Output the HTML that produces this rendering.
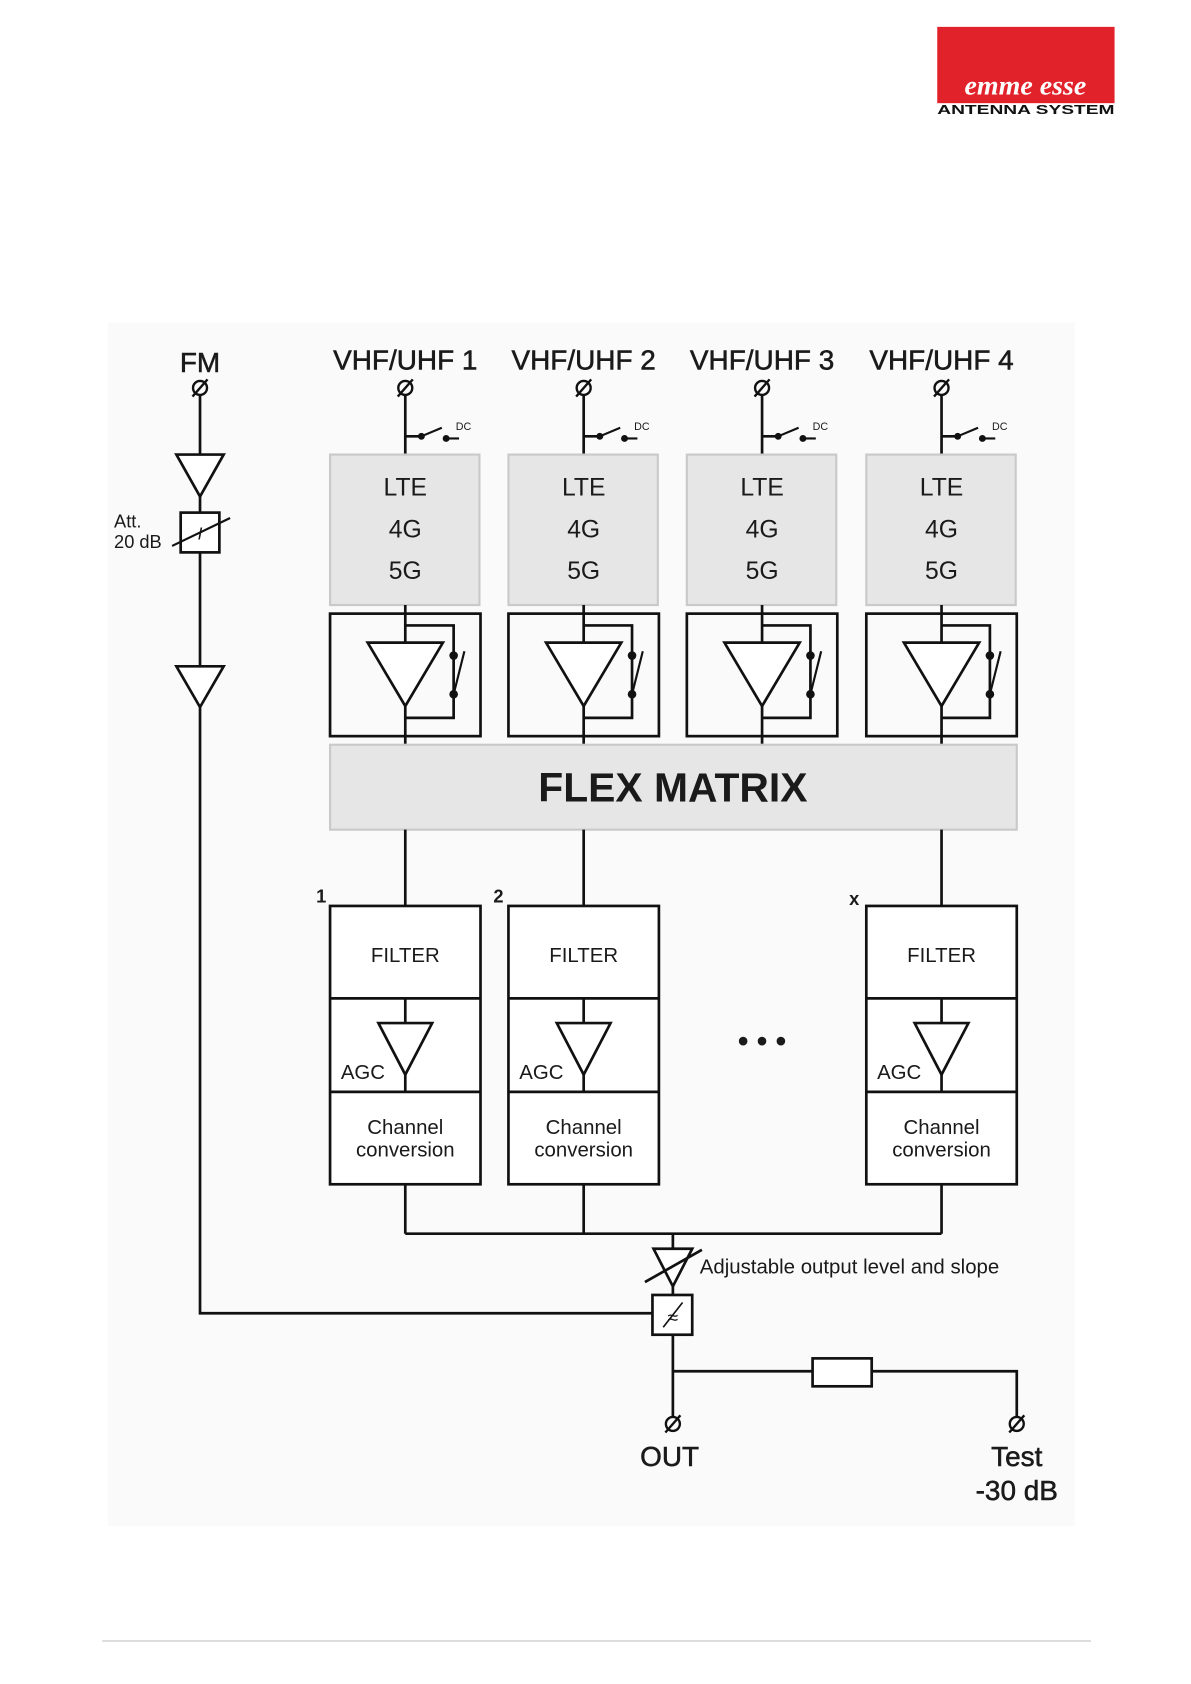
<!DOCTYPE html>
<html><head><meta charset="utf-8"><style>
html,body{margin:0;padding:0;background:#fff}
svg{display:block}
text{font-family:"Liberation Sans",sans-serif;fill:#1a1a1a}
</style></head><body>
<svg width="1191" height="1684" viewBox="0 0 1108 1567" xmlns="http://www.w3.org/2000/svg">
<defs>
<g id="term"><circle cx="0" cy="0" r="6.5" fill="none" stroke="#111" stroke-width="2.2"/><line x1="-7" y1="8" x2="7" y2="-8" stroke="#111" stroke-width="2.2"/></g>
<g id="col">
 <use href="#term" x="0" y="361"/>
 <line x1="0" y1="368" x2="0" y2="423" stroke="#111" stroke-width="2.5"/>
 <line x1="0" y1="406" x2="15" y2="406" stroke="#111" stroke-width="2.5"/>
 <circle cx="15" cy="406" r="3.2" fill="#111"/>
 <line x1="15" y1="406" x2="34" y2="398" stroke="#111" stroke-width="2"/>
 <circle cx="38" cy="408" r="3.2" fill="#111"/>
 <line x1="38" y1="408" x2="50" y2="408" stroke="#111" stroke-width="2"/>
 <text x="47" y="400" font-size="10">DC</text>
 <rect x="-70" y="423" width="139" height="140" fill="#e6e6e6" stroke="#c9c9c9" stroke-width="2"/>
 <text x="0" y="461" font-size="23" text-anchor="middle">LTE</text>
 <text x="0" y="500" font-size="23" text-anchor="middle">4G</text>
 <text x="0" y="539" font-size="23" text-anchor="middle">5G</text>
 <line x1="0" y1="563" x2="0" y2="693" stroke="#111" stroke-width="2.5"/>
 <rect x="-70" y="571" width="140" height="114" fill="none" stroke="#111" stroke-width="2.5"/>
 <polygon points="-35,598 35,598 0,657" fill="#fff" stroke="#111" stroke-width="2.5"/>
 <polyline points="0,582 45,582 45,668 0,668" fill="none" stroke="#111" stroke-width="2.5"/>
 <circle cx="45" cy="610" r="4" fill="#111"/><circle cx="45" cy="646" r="4" fill="#111"/>
 <line x1="45" y1="646" x2="55" y2="606" stroke="#111" stroke-width="2"/>
</g>
<g id="chan">
 <rect x="-70" y="843" width="140" height="259" fill="#fff" stroke="#111" stroke-width="2.5"/>
 <line x1="-70" y1="929" x2="70" y2="929" stroke="#111" stroke-width="2.5"/>
 <line x1="-70" y1="1016" x2="70" y2="1016" stroke="#111" stroke-width="2.5"/>
 <text x="0" y="895" font-size="19" text-anchor="middle">FILTER</text>
 <line x1="0" y1="929" x2="0" y2="952" stroke="#111" stroke-width="2.5"/>
 <polygon points="-25,952 25,952 0,1000" fill="#fff" stroke="#111" stroke-width="2.5"/>
 <line x1="0" y1="1000" x2="0" y2="1016" stroke="#111" stroke-width="2.5"/>
 <text x="-60" y="1004" font-size="19">AGC</text>
 <text x="0" y="1055" font-size="19" text-anchor="middle">Channel</text>
 <text x="0" y="1076" font-size="19" text-anchor="middle">conversion</text>
 <line x1="0" y1="1102" x2="0" y2="1148" stroke="#111" stroke-width="2.5"/>
</g>
</defs>
<rect x="100" y="300" width="900" height="1120" fill="#fafafa"/>
<!-- logo -->
<rect x="872" y="25" width="165" height="71" fill="#e2222a"/>
<text x="954" y="88" font-size="26" font-style="italic" font-weight="bold" text-anchor="middle" style="fill:#fff;font-family:'Liberation Serif',serif">emme esse</text>
<text x="872" y="106" font-size="12" font-weight="bold" textLength="165" lengthAdjust="spacingAndGlyphs" style="fill:#111">ANTENNA SYSTEM</text>
<!-- FM -->
<text x="186" y="346" font-size="26" text-anchor="middle" stroke="#1a1a1a" stroke-width="0.5">FM</text>
<use href="#term" x="186" y="361"/>
<polyline points="186,368 186,1222 607,1222" fill="none" stroke="#111" stroke-width="2.5"/>
<polygon points="164,423 208,423 186,462" fill="#fff" stroke="#111" stroke-width="2.5"/>
<rect x="168" y="477" width="36" height="37" fill="#fff" stroke="#111" stroke-width="2.5"/>
<text x="186" y="502" font-size="16" text-anchor="middle" font-style="italic">I</text>
<line x1="160" y1="508" x2="214" y2="482" stroke="#111" stroke-width="2"/>
<text x="106" y="491" font-size="17">Att.</text>
<text x="106" y="510" font-size="17">20 dB</text>
<polygon points="164,620 208,620 186,658" fill="#fff" stroke="#111" stroke-width="2.5"/>
<!-- columns -->
<g stroke="#1a1a1a" stroke-width="0.5">
<text x="377" y="344" font-size="26" text-anchor="middle">VHF/UHF 1</text>
<text x="543" y="344" font-size="26" text-anchor="middle">VHF/UHF 2</text>
<text x="709" y="344" font-size="26" text-anchor="middle">VHF/UHF 3</text>
<text x="876" y="344" font-size="26" text-anchor="middle">VHF/UHF 4</text>
</g>
<use href="#col" x="377"/><use href="#col" x="543"/><use href="#col" x="709"/><use href="#col" x="876"/>
<rect x="307" y="693" width="639" height="79" fill="#e6e6e6" stroke="#c9c9c9" stroke-width="2"/>
<text x="626" y="746" font-size="38" font-weight="bold" text-anchor="middle">FLEX MATRIX</text>
<line x1="377" y1="772" x2="377" y2="843" stroke="#111" stroke-width="2.5"/>
<line x1="543" y1="772" x2="543" y2="843" stroke="#111" stroke-width="2.5"/>
<line x1="876" y1="772" x2="876" y2="843" stroke="#111" stroke-width="2.5"/>
<text x="294" y="840" font-size="17" font-weight="bold">1</text>
<text x="459" y="840" font-size="17" font-weight="bold">2</text>
<text x="790" y="842" font-size="17" font-weight="bold">x</text>
<use href="#chan" x="377"/><use href="#chan" x="543"/><use href="#chan" x="876"/>
<text x="709" y="978" font-size="28" font-weight="bold" text-anchor="middle">• • •</text>
<line x1="377" y1="1148" x2="876" y2="1148" stroke="#111" stroke-width="2.5"/>
<line x1="626" y1="1148" x2="626" y2="1205" stroke="#111" stroke-width="2.5"/>
<polygon points="608,1162 644,1162 626,1197" fill="#fff" stroke="#111" stroke-width="2.5"/>
<line x1="600" y1="1193" x2="653" y2="1163" stroke="#111" stroke-width="2.5"/>
<text x="651" y="1185" font-size="19">Adjustable output level and slope</text>
<rect x="607" y="1205" width="37" height="37" fill="#fff" stroke="#111" stroke-width="2.5"/>
<text x="626" y="1232" font-size="18" text-anchor="middle">≈</text>
<line x1="617" y1="1235" x2="635" y2="1212" stroke="#111" stroke-width="1.5"/>
<line x1="626" y1="1242" x2="626" y2="1318" stroke="#111" stroke-width="2.5"/>
<polyline points="626,1276 946,1276 946,1318" fill="none" stroke="#111" stroke-width="2.5"/>
<rect x="756" y="1264" width="55" height="26" fill="#fff" stroke="#111" stroke-width="2.5"/>
<use href="#term" x="626" y="1325"/><use href="#term" x="946" y="1325"/>
<g stroke="#1a1a1a" stroke-width="0.5">
<text x="623" y="1364" font-size="26" text-anchor="middle">OUT</text>
<text x="946" y="1364" font-size="26" text-anchor="middle">Test</text>
<text x="946" y="1396" font-size="26" text-anchor="middle">-30 dB</text>
</g>
<line x1="95" y1="1527" x2="1015" y2="1527" stroke="#bbb" stroke-width="1"/>
</svg>
</body></html>
